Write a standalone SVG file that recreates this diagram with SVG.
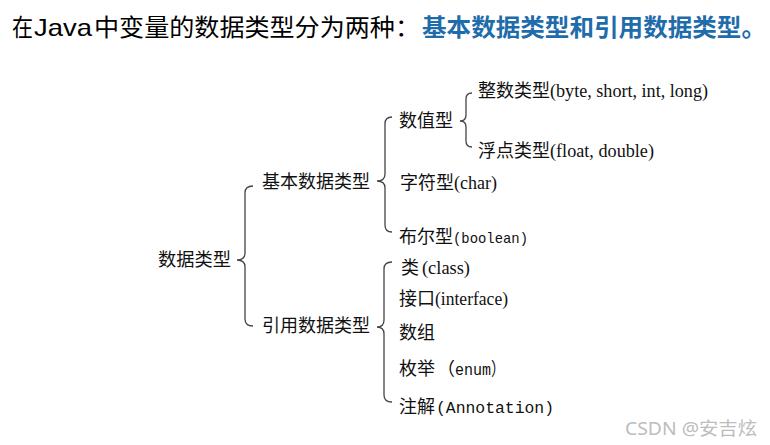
<svg xmlns="http://www.w3.org/2000/svg" width="770" height="445" viewBox="0 0 770 445">
<style>
.cjk{font-family:"Noto Sans CJK SC","Liberation Sans",sans-serif;}
.hd{font-size:24px;fill:#000;}
.hb{font-size:24px;fill:#1f6cab;font-weight:bold;}
.t{font-size:18px;fill:#111;}
.tm{font-family:"Liberation Serif",serif;}
.mo{font-family:"Liberation Mono",monospace;}
.br{fill:none;stroke:#444;stroke-width:1.3;}
.wm{font-family:"Noto Sans","Noto Sans CJK SC",sans-serif;font-size:18px;fill:#bdbdbd;}
</style>
<rect width="770" height="445" fill="#fff"/>
<g id="title">
<text class="cjk hd" y="36"><tspan x="12" textLength="21" lengthAdjust="spacingAndGlyphs">在</tspan><tspan x="34" font-family="Liberation Sans" textLength="58" lengthAdjust="spacingAndGlyphs">Java</tspan><tspan x="94" textLength="326" lengthAdjust="spacingAndGlyphs">中变量的数据类型分为两种：</tspan></text>
<text class="cjk hb" x="422" y="36" textLength="344" lengthAdjust="spacingAndGlyphs">基本数据类型和引用数据类型。</text>
</g>
<g id="connectors">
<path class="br" d="M253 186 Q245 186 245 193 L245 253 Q245 260 237 260 Q245 260 245 267 L245 319 Q245 326 253 326"/>
<path class="br" d="M392 117 Q385 117 385 124 L385 174 Q385 181 377 181 Q385 181 385 188 L385 225 Q385 232 392 232"/>
<path class="br" d="M472 93 Q466 93 466 99 L466 115 Q466 121 460 121 Q466 121 466 127 L466 141 Q466 147 472 147"/>
<path class="br" d="M392 262 Q384 262 384 269 L384 320 Q384 327 377 327 Q384 327 384 334 L384 395 Q384 402 392 402"/>
</g>
<g id="n-root"><text class="cjk t" x="158" y="266" textLength="73" lengthAdjust="spacingAndGlyphs">数据类型</text></g>
<g id="n-basic"><text class="cjk t" x="262" y="188" textLength="108" lengthAdjust="spacingAndGlyphs">基本数据类型</text></g>
<g id="n-ref"><text class="cjk t" x="262" y="332" textLength="108" lengthAdjust="spacingAndGlyphs">引用数据类型</text></g>
<g id="n-num"><text class="cjk t" x="399" y="127" textLength="54" lengthAdjust="spacingAndGlyphs">数值型</text></g>
<g id="n-int"><text class="cjk t" y="97"><tspan x="478" textLength="72" lengthAdjust="spacingAndGlyphs">整数类型</tspan><tspan class="tm" x="550" font-size="18" textLength="158" lengthAdjust="spacingAndGlyphs">(byte, short, int, long)</tspan></text></g>
<g id="n-float"><text class="cjk t" y="157"><tspan x="478" textLength="72" lengthAdjust="spacingAndGlyphs">浮点类型</tspan><tspan class="tm" x="550" font-size="18" textLength="104" lengthAdjust="spacingAndGlyphs">(float, double)</tspan></text></g>
<g id="n-char"><text class="cjk t" y="189"><tspan x="400" textLength="54" lengthAdjust="spacingAndGlyphs">字符型</tspan><tspan class="tm" x="454" font-size="18" textLength="43" lengthAdjust="spacingAndGlyphs">(char)</tspan></text></g>
<g id="n-bool"><text class="cjk t" y="243"><tspan x="399" textLength="54" lengthAdjust="spacingAndGlyphs">布尔型</tspan><tspan class="mo" x="453" font-size="15" textLength="75" lengthAdjust="spacingAndGlyphs">(boolean)</tspan></text></g>
<g id="n-class"><text class="cjk t" y="274"><tspan x="401" textLength="18" lengthAdjust="spacingAndGlyphs">类</tspan><tspan class="tm" x="422" font-size="18" textLength="48" lengthAdjust="spacingAndGlyphs">(class)</tspan></text></g>
<g id="n-iface"><text class="cjk t" y="305"><tspan x="399" textLength="36" lengthAdjust="spacingAndGlyphs">接口</tspan><tspan class="tm" x="435" font-size="18" textLength="73" lengthAdjust="spacingAndGlyphs">(interface)</tspan></text></g>
<g id="n-array"><text class="cjk t" x="399" y="339" textLength="36" lengthAdjust="spacingAndGlyphs">数组</text></g>
<g id="n-enum"><text class="cjk t" y="375"><tspan x="399" textLength="36" lengthAdjust="spacingAndGlyphs">枚举</tspan><tspan x="437" textLength="18" lengthAdjust="spacingAndGlyphs">（</tspan><tspan class="mo" x="455" font-size="16" textLength="36" lengthAdjust="spacingAndGlyphs">enum</tspan><tspan x="491" textLength="14" lengthAdjust="spacingAndGlyphs">）</tspan></text></g>
<g id="n-anno"><text class="cjk t" y="413"><tspan x="399" textLength="36" lengthAdjust="spacingAndGlyphs">注解</tspan><tspan class="mo" x="436" font-size="16" textLength="118" lengthAdjust="spacingAndGlyphs">(Annotation)</tspan></text></g>
<text class="wm" x="625" y="435" textLength="132" lengthAdjust="spacingAndGlyphs">CSDN @安吉炫</text>
</svg>
